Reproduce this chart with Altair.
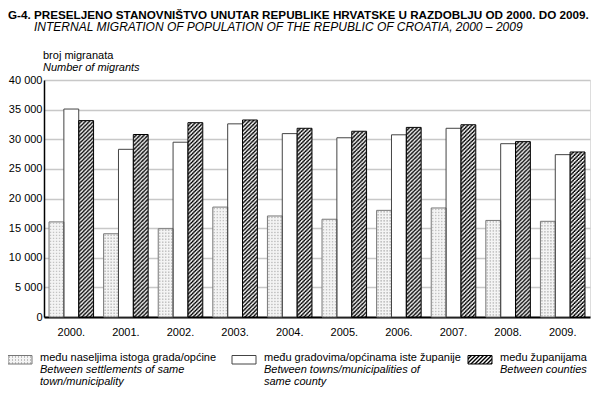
import altair as alt
import pandas as pd
from urllib.parse import quote

# ---------------- data ----------------
years = ["2000.", "2001.", "2002.", "2003.", "2004.", "2005.", "2006.", "2007.", "2008.", "2009."]
series_keys = ["settlements", "towns", "counties"]
settlements = [16050, 14050, 14900, 18550, 17050, 16500, 18000, 18400, 16300, 16150]
towns = [35100, 28300, 29500, 32600, 30950, 30250, 30750, 31850, 29250, 27400]
counties = [33150, 30800, 32800, 33250, 31850, 31350, 32000, 32450, 29600, 27850]
y_ticks = [0, 5000, 10000, 15000, 20000, 25000, 30000, 35000, 40000]

title_hr = "G-4. PRESELJENO STANOVNIŠTVO UNUTAR REPUBLIKE HRVATSKE U RAZDOBLJU OD 2000. DO 2009."
title_en = "INTERNAL MIGRATION OF POPULATION OF THE REPUBLIC OF CROATIA, 2000 – 2009"
ytitle_hr = "broj migranata"
ytitle_en = "Number of migrants"
legend_hr = ["među naseljima istoga grada/općine", "među gradovima/općinama iste županije", "među županijama"]
legend_en = [["Between settlements of same", "town/municipality"],
             ["Between towns/municipalities of", "same county"],
             ["Between counties"]]

df = pd.DataFrame({
    "year": [y for _ in series_keys for y in years],
    "series": [s for s in series_keys for _ in years],
    "value": settlements + towns + counties,
})

FONT = "Liberation Sans"

# ---------------- fill patterns (svg images) ----------------
def svg_uri(pattern_body, w, h):
    svg = ('<svg xmlns="http://www.w3.org/2000/svg"><defs>'
           f'<pattern id="p" width="{w}" height="{h}" patternUnits="userSpaceOnUse">'
           f'{pattern_body}</pattern></defs>'
           '<rect width="100%" height="100%" fill="url(#p)"/></svg>')
    return "data:image/svg+xml;charset=utf-8," + quote(svg)

HATCH = svg_uri('<rect width="4" height="4" fill="#fff"/>'
                '<path d="M2 0h2v1h-2zM1 1h2v1h-2zM0 2h2v1h-2zM0 3h1v1h-1zM3 3h1v1h-1z" fill="#000"/>', 4, 4)
DOTS = svg_uri('<rect width="3" height="3" fill="#f4f4f4"/>'
               '<rect x="1" y="1" width="1" height="1" fill="#888"/>', 3, 3)

# ---------------- encodings ----------------
x_enc = alt.X("year:N", sort=years,
              scale=alt.Scale(paddingInner=0.184, paddingOuter=0.092),
              axis=alt.Axis(title=None, labelAngle=0, ticks=False, grid=False,
                            domainColor="black", domainWidth=2,
                            labelBaseline="alphabetic", labelPadding=18,
                            labelFontSize=11, labelColor="black", labelFont=FONT))
xo_enc = alt.XOffset("series:N", sort=series_keys,
                     scale=alt.Scale(paddingInner=0, paddingOuter=0))
y_enc = alt.Y("value:Q", scale=alt.Scale(domain=[0, 40000], nice=False),
              axis=alt.Axis(title=None, values=y_ticks, ticks=False,
                            labelExpr="replace(format(datum.value, ','), ',', ' ')",
                            domainColor="black", domainWidth=1.5,
                            gridColor="#c8c8c8", gridWidth=1.5,
                            labelPadding=2, labelFontSize=11, labelColor="black", labelFont=FONT))

base = alt.Chart(df)

bars_bg = base.mark_bar(fill="white").encode(x=x_enc, xOffset=xo_enc, y=y_enc)

dots_img = base.transform_filter(alt.datum.series == "settlements").mark_image(aspect=False).encode(
    x=x_enc, xOffset=xo_enc, y=y_enc, y2=alt.datum(0), url=alt.value(DOTS))
hatch_img = base.transform_filter(alt.datum.series == "counties").mark_image(aspect=False).encode(
    x=x_enc, xOffset=xo_enc, y=y_enc, y2=alt.datum(0), url=alt.value(HATCH))

bars_outline = base.mark_bar(fillOpacity=0, strokeWidth=1).encode(
    x=x_enc, xOffset=xo_enc, y=y_enc,
    stroke=alt.Stroke("series:N", sort=series_keys,
                      scale=alt.Scale(domain=series_keys, range=["#777777", "#444444", "#000000"]),
                      legend=None))

one = alt.Data(values=[{}])

def text(t, x, y, size=11, **kw):
    return alt.Chart(one).mark_text(text=t, align="left", baseline="alphabetic", font=FONT,
                                    fontSize=size, color="black", **kw).encode(
        x=alt.value(x), y=alt.value(y))

texts = [
    text(title_hr, -36, -61, size=11.7, fontWeight="bold"),
    text(title_en, -10, -49, size=12, fontStyle="italic"),
    text(ytitle_hr, -1, -21),
    text(ytitle_en, -1, -9, fontStyle="italic"),
]

# ---------------- legend ----------------
legend_swatch_x = [(-36, -12), (188, 212), (424, 448)]
legend_text_x = [-4, 220, 456]
sw_y0, sw_y1 = 275.5, 284
line_y = [281, 293, 305]
legend_fill = [DOTS, None, HATCH]
legend_stroke = ["#777777", "#444444", "#000000"]

legend_layers = []
for i in range(3):
    x0, x1 = legend_swatch_x[i]
    legend_layers.append(alt.Chart(one).mark_rect(fill="white").encode(
        x=alt.value(x0), x2=alt.value(x1), y=alt.value(sw_y0), y2=alt.value(sw_y1)))
    if legend_fill[i]:
        legend_layers.append(alt.Chart(one).mark_image(aspect=False).encode(
            x=alt.value(x0), x2=alt.value(x1), y=alt.value(sw_y0), y2=alt.value(sw_y1),
            url=alt.value(legend_fill[i])))
    legend_layers.append(alt.Chart(one).mark_rect(fillOpacity=0, stroke=legend_stroke[i], strokeWidth=1).encode(
        x=alt.value(x0), x2=alt.value(x1), y=alt.value(sw_y0), y2=alt.value(sw_y1)))
    legend_layers.append(text(legend_hr[i], legend_text_x[i], line_y[0]))
    for j, ln in enumerate(legend_en[i]):
        legend_layers.append(text(ln, legend_text_x[i], line_y[j + 1], fontStyle="italic"))

chart = alt.layer(bars_bg, dots_img, hatch_img, bars_outline, *texts, *legend_layers).properties(
    width=546, height=237,
    padding={"left": 36, "top": 72, "right": 1, "bottom": 71},
    autosize=alt.AutoSizeParams(type="none"),
).configure_view(stroke="#a0a0a0", strokeWidth=1).configure(font=FONT)

chart.save("out.html", embed_options={"renderer": "svg", "actions": False})
